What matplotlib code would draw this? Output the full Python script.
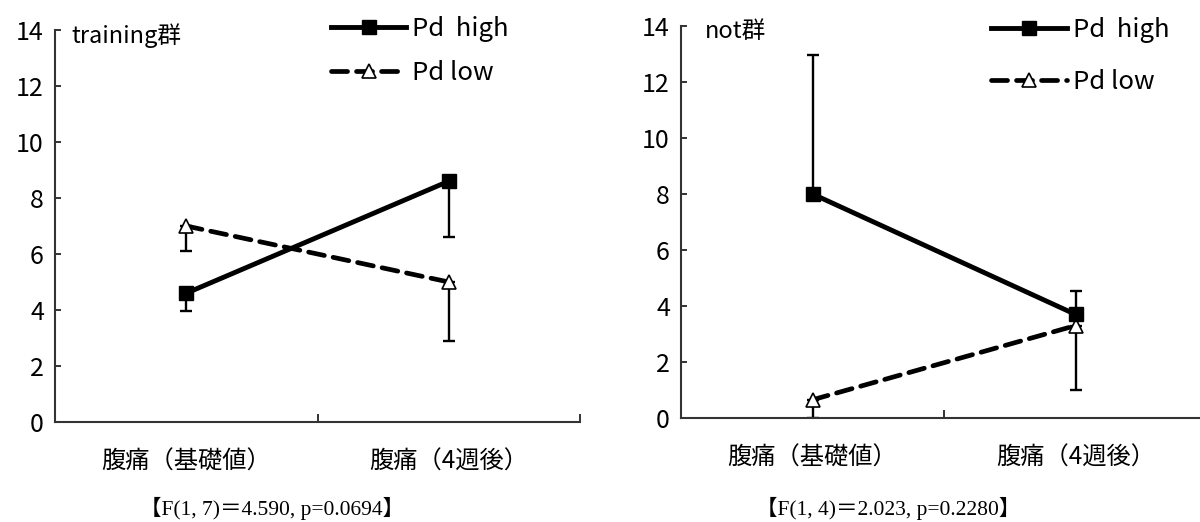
import matplotlib
matplotlib.use('Agg')
import matplotlib.pyplot as plt
from matplotlib.ticker import FixedLocator

plt.rcParams['font.family'] = ['Noto Sans CJK JP', 'DejaVu Sans']

# ---- data ----
categories = ['腹痛（基礎値）', '腹痛（4週後）']
series_names = ['Pd  high', 'Pd low']
panel_titles = ['training群', 'not群']
stats_texts = ['【F(1, 7)＝4.590, p=0.0694】', '【F(1, 4)＝2.023, p=0.2280】']

train_high = [4.6, 8.6]
train_high_err_down = [0.65, 2.0]
train_high_err_up = [0.0, 0.0]
train_low = [7.0, 5.0]
train_low_err_down = [0.9, 2.1]
train_low_err_up = [0.0, 0.0]

not_high = [8.0, 3.7]
not_high_err_down = [0.0, 0.0]
not_high_err_up = [4.95, 0.85]
not_low = [0.65, 3.3]
not_low_err_down = [0.65, 2.3]
not_low_err_up = [0.0, 0.0]

yticks = [0, 2, 4, 6, 8, 10, 12, 14]

panels = [
    dict(pos=[55/1200, 100/522, 525/1200, 392/522],
         high=train_high, high_err=[train_high_err_down, train_high_err_up],
         low=train_low, low_err=[train_low_err_down, train_low_err_up],
         title=panel_titles[0], title_x=0.032,
         leg_anchor=(0.525, 1.036), labelspacing=0.72,
         stats=stats_texts[0], stats_x=272/1200),
    dict(pos=[681/1200, 104/522, 526/1200, 392/522],
         high=not_high, high_err=[not_high_err_down, not_high_err_up],
         low=not_low, low_err=[not_low_err_down, not_low_err_up],
         title=panel_titles[1], title_x=0.045,
         leg_anchor=(0.590, 1.022), labelspacing=1.0,
         stats=stats_texts[1], stats_x=888/1200),
]

fig = plt.figure(figsize=(12, 5.22), dpi=100)
x = list(range(len(categories)))
spine_c = '#333333'

for p in panels:
    ax = fig.add_axes(p['pos'])
    # error bars (one-sided)
    ax.errorbar(x, p['high'], yerr=p['high_err'], fmt='none', ecolor='black',
                elinewidth=1.7, capsize=4.5, capthick=1.7, zorder=2)
    ax.errorbar(x, p['low'], yerr=p['low_err'], fmt='none', ecolor='black',
                elinewidth=1.7, capsize=4.5, capthick=1.7, zorder=2)
    l1, = ax.plot(x, p['high'], color='black', lw=3.5, marker='s', markersize=10.5,
                  markerfacecolor='black', markeredgecolor='black', zorder=4,
                  label=series_names[0])
    l2, = ax.plot(x, p['low'], color='black', lw=3.4, linestyle=(0, (3.4, 1.9)),
                  dash_capstyle='round', marker='^', markersize=10.5,
                  markerfacecolor='white', markeredgecolor='black', markeredgewidth=1.2,
                  zorder=3, label=series_names[1])

    ax.set_xlim(-0.5, 1.5)
    ax.set_ylim(0, 14)
    ax.set_yticks(yticks)
    ax.set_xticks(x)
    ax.set_xticklabels(categories, fontsize=17.5)
    ax.xaxis.set_minor_locator(FixedLocator([0.5, 1.5]))
    ax.tick_params(axis='x', which='major', length=0, pad=19)
    ax.tick_params(axis='x', which='minor', direction='in', length=6, width=1.4, color=spine_c)
    ax.tick_params(axis='y', direction='in', length=4, width=1.4, color=spine_c,
                   pad=8, labelsize=18)

    for s in ['top', 'right']:
        ax.spines[s].set_visible(False)
    for s in ['left', 'bottom']:
        ax.spines[s].set_color(spine_c)
        ax.spines[s].set_linewidth(1.5)

    ax.text(p['title_x'], 0.985, p['title'], transform=ax.transAxes,
            fontsize=17, ha='left', va='center')

    ax.legend(handles=[l1, l2], loc='upper left', bbox_to_anchor=p['leg_anchor'],
              frameon=False, fontsize=18.5, handlelength=2.95, handletextpad=0.22,
              labelspacing=p['labelspacing'], borderpad=0, borderaxespad=0,
              numpoints=1)

    fig.text(p['stats_x'], 0.025, p['stats'], ha='center', va='center', fontsize=15.5,
             family=['Liberation Serif', 'Noto Sans CJK JP'])

fig.savefig('out.png', dpi=100)
